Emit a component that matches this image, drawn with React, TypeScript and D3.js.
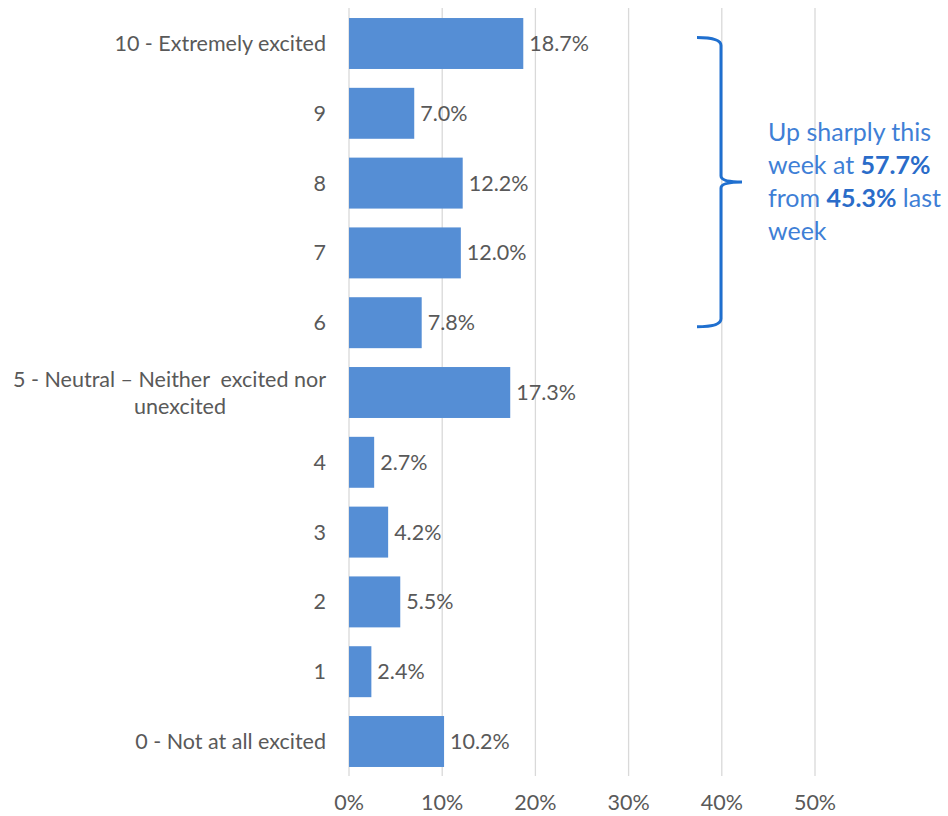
import React from 'react';
import * as d3 from 'd3';

const categories = [
  '10 - Extremely excited',
  '9',
  '8',
  '7',
  '6',
  '5 - Neutral – Neither  excited nor|unexcited',
  '4',
  '3',
  '2',
  '1',
  '0 - Not at all excited',
];
const values = [18.7, 7.0, 12.2, 12.0, 7.8, 17.3, 2.7, 4.2, 5.5, 2.4, 10.2];
const xTicks = [0, 10, 20, 30, 40, 50];
const noteLines = [
  [{ t: 'Up sharply this', b: false }],
  [{ t: 'week at ', b: false }, { t: '57.7%', b: true }],
  [{ t: 'from ', b: false }, { t: '45.3%', b: true }, { t: ' last', b: false }],
  [{ t: 'week', b: false }],
];

const W = 948;
const H = 816;
const font = 'Lato, "Open Sans", sans-serif';
const textColor = '#595959';

const App = () => {
  const x = d3.scaleLinear().domain([0, 50]).range([349, 815]);
  const y = d3.scaleBand().domain(categories).range([8.6, 776.4]).paddingInner(0.27).paddingOuter(0.135);

  // bracket spans rows 10..6
  const yTop = y(categories[0])! + y.bandwidth() / 2 - 6;
  const yBot = y(categories[4])! + y.bandwidth() / 2 + 4;
  const yMid = (yTop + yBot) / 2;
  const bx = 721;

  return (
    <svg width={W} height={H} style={{ position: 'absolute', left: 0, top: 0, background: '#fff' }}>
      <g>
        {xTicks.map((t) => (
          <line key={t} x1={x(t)} x2={x(t)} y1={8} y2={776} stroke="#d9d9d9" strokeWidth={1.3} />
        ))}
      </g>
      <g>
        {categories.map((c, i) => (
          <rect
            key={c}
            x={x(0)}
            y={y(c)}
            width={x(values[i]) - x(0)}
            height={y.bandwidth()}
            fill="#558ed5"
          />
        ))}
      </g>
      <g fontFamily={font} fontSize={21.5} fill={textColor}>
        {categories.map((c, i) => (
          <text key={c} x={x(values[i]) + 6} y={y(c)! + y.bandwidth() / 2} dy="0.35em">
            {values[i].toFixed(1)}%
          </text>
        ))}
        {categories.map((c) => {
          const parts = c.split('|');
          const cy = y(c)! + y.bandwidth() / 2;
          if (parts.length === 1) {
            return (
              <text key={c} x={326} y={cy} dy="0.35em" textAnchor="end">
                {c}
              </text>
            );
          }
          return (
            <g key={c}>
              <text x={326} y={cy - 13} dy="0.35em" textAnchor="end" style={{ whiteSpace: 'pre' }}>
                {parts[0]}
              </text>
              <text x={180} y={cy + 14} dy="0.35em" textAnchor="middle">
                {parts[1]}
              </text>
            </g>
          );
        })}
        {xTicks.map((t) => (
          <text key={t} x={x(t)} y={802} dy="0.35em" textAnchor="middle">
            {t}%
          </text>
        ))}
      </g>
      <path
        d={`M697,${yTop} Q${bx},${yTop} ${bx},${yTop + 8} L${bx},${yMid - 6} Q${bx},${yMid} 742,${yMid} Q${bx},${yMid} ${bx},${yMid + 6} L${bx},${yBot - 8} Q${bx},${yBot} 697,${yBot}`}
        fill="none"
        stroke="#1f6fcf"
        strokeWidth={3}
      />
      <g fontFamily={font} fontSize={25} fill="#3f7fd6">
        {noteLines.map((line, i) => (
          <text key={i} x={768} y={141 + i * 33}>
            {line.map((s, j) => (
              <tspan key={j} fontWeight={s.b ? 700 : 400} fill={s.b ? '#2a6cc9' : undefined}>
                {s.t}
              </tspan>
            ))}
          </text>
        ))}
      </g>
    </svg>
  );
};

export default App;
